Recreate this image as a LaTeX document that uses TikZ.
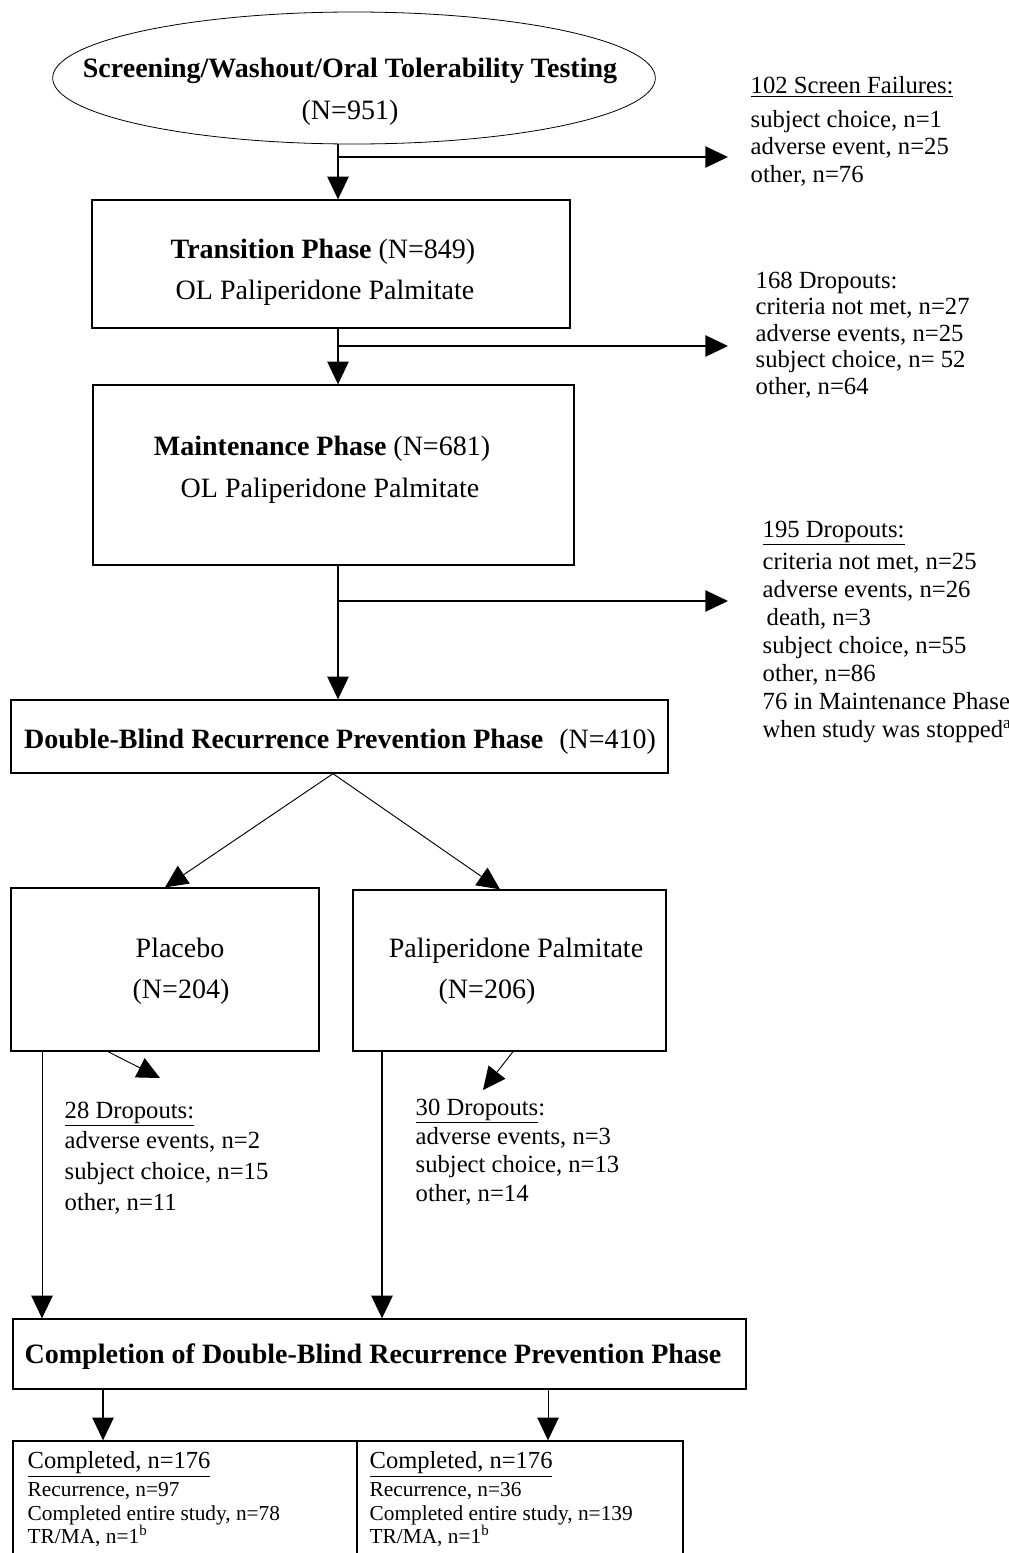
\documentclass[tikz,border=0pt]{standalone}
\usepackage{fontspec}
\setmainfont{Liberation Serif}
\usetikzlibrary{shapes.geometric,arrows.meta}

\tikzset{every picture/.style={line width=1pt}}
\tikzset{
  phase/.style={draw, rectangle, inner sep=0pt},
  arr/.style={-{Triangle[length=17pt,width=16pt]}},
  thin arr/.style={arr, line width=0.7pt},
  big/.style={font=\fontsize{21}{25}\selectfont, inner sep=0pt, anchor=base},
  side/.style={font=\fontsize{18.5}{20.6}\selectfont, inner sep=0pt, anchor=north west, align=left},
  small/.style={font=\fontsize{16}{17.6}\selectfont, inner sep=0pt, anchor=north west, align=left}
}

\begin{document}
\begin{tikzpicture}[x=0.75pt,y=0.75pt,yscale=-1,xscale=1]
\useasboundingbox (0,0) rectangle (1009,1553);

%Shape: Ellipse
\node [draw, ellipse, line width=0.6pt, minimum width=452pt, minimum height=99pt] (screen) at (354,78) {};
%Shape: Rectangle
\node [phase, minimum width=358.5pt, minimum height=96pt] (trans) at (331,264) {};
%Shape: Rectangle
\node [phase, minimum width=360.75pt, minimum height=135pt] (maint) at (333.5,475) {};
%Shape: Rectangle
\node [phase, minimum width=492.75pt, minimum height=54.75pt] (dbrp) at (339.5,736.5) {};
%Shape: Rectangle
\node [phase, minimum width=231pt, minimum height=122.25pt] (plac) at (165,969.5) {};
%Shape: Rectangle
\node [phase, minimum width=234.75pt, minimum height=120.75pt] (pali) at (509.5,970.5) {};
%Shape: Rectangle
\node [phase, minimum width=549.75pt, minimum height=52.5pt] (compl) at (379.5,1354) {};
%Shape: Rectangle (cut by the page edge)
\node [phase, minimum width=258pt, minimum height=93pt] (compA) at (185,1503) {};
\node [phase, minimum width=244.5pt, minimum height=93pt] (compB) at (520,1503) {};

%Free ends
\coordinate (fork1) at (338,157);
\coordinate (tip1) at (728,157);
\coordinate (fork2) at (338,346);
\coordinate (tip2) at (728,346);
\coordinate (fork3) at (338,601);
\coordinate (tip3) at (728,601);
\coordinate (tip28) at (160,1078);
\coordinate (tip30) at (483,1090);

%Straight Lines
\draw [arr] (screen.south -| fork1) -- (trans.north -| fork1);
\draw [arr] (fork1) -- (tip1);
\draw [arr] (trans.south -| fork2) -- (maint.north -| fork2);
\draw [arr] (fork2) -- (tip2);
\draw [arr] (maint.south -| fork3) -- (dbrp.north -| fork3);
\draw [arr] (fork3) -- (tip3);
\draw [thin arr] (dbrp.south -| 333,0) -- (plac.north);
\draw [thin arr] (dbrp.south -| 333,0) -- (pali.north -| 500,0);
\draw [thin arr] (plac.south -| 108,0) -- (tip28);
\draw [thin arr] (pali.south -| 513,0) -- (tip30);
\draw [thin arr] (plac.south -| 42,0) -- (compl.north -| 42,0);
\draw [arr] (pali.south -| 382,0) -- (compl.north -| 382,0);
\draw [arr] (compl.south -| 103,0) -- (compA.north -| 103,0);
\draw [thin arr] (compl.south -| 548,0) -- (compB.north -| 548,0);

% Text Node
\node [big] (scrt1) at (350,77) {\textbf{Screening/Washout/Oral Tolerability Testing}};
\node [big] (scrt2) at (350,119) {(N=951)};
% Text Node
\node [big] (trt1) at (323,258) {\textbf{Transition Phase} (N=849)};
\node [big] (trt2) at (325,299) {OL Paliperidone Palmitate};
% Text Node
\node [big] (mat1) at (322,455) {\textbf{Maintenance Phase} (N=681)};
\node [big] (mat2) at (330,497) {OL Paliperidone Palmitate};
% Text Node
\node [big] (dbt) at (340,748) {\textbf{Double-Blind Recurrence Prevention Phase}\hspace{12pt}(N=410)};
% Text Node
\node [big] (plt1) at (180,957) {Placebo};
\node [big] (plt2) at (181,998) {(N=204)};
% Text Node
\node [big] (pat1) at (516,957) {Paliperidone Palmitate};
\node [big] (pat2) at (487,998) {(N=206)};
% Text Node
\node [big] (cot) at (373,1363) {\textbf{Completion of Double-Blind Recurrence Prevention Phase}};

% Text Node
\node [side] (fail) at (750,76) {\underline{102 Screen Failures:}\\[4.5pt]subject choice, n=1\\adverse event, n=25\\other, n=76};
% Text Node
\node [side, font=\fontsize{18.5}{19.9}\selectfont] (drop168) at (755,271) {168 Dropouts:\\criteria not met, n=27\\adverse events, n=25\\subject choice, n= 52\\other, n=64};
% Text Node
\node [side, font=\fontsize{18.5}{21}\selectfont] (drop195) at (762,520) {\underline{195 Dropouts:}\\[3pt]criteria not met, n=25\\adverse events, n=26\\\hspace*{3pt}death, n=3\\subject choice, n=55\\other, n=86\\76 in Maintenance Phase\\when study was stopped\textsuperscript{a}};
% Text Node
\node [side, font=\fontsize{18.5}{23}\selectfont] (drop28) at (64,1101) {\underline{28 Dropouts:}\\adverse events, n=2\\subject choice, n=15\\other, n=11};
% Text Node
\node [side, font=\fontsize{18.5}{21.7}\selectfont] (drop30) at (415,1098) {\underline{30 Dropouts}:\\adverse events, n=3\\subject choice, n=13\\other, n=14};

% Text Node
\node [side, font=\fontsize{18.4}{20}\selectfont] (compAh) at (27,1451) {\underline{Completed, n=176}};
\node [small] (compAt) at (27,1482) {Recurrence, n=97\\Completed entire study, n=78\\TR/MA, n=1\textsuperscript{b}};
% Text Node
\node [side, font=\fontsize{18.4}{20}\selectfont] (compBh) at (369,1451) {\underline{Completed, n=176}};
\node [small] (compBt) at (369,1482) {Recurrence, n=36\\Completed entire study, n=139\\TR/MA, n=1\textsuperscript{b}};
\end{tikzpicture}
\end{document}
